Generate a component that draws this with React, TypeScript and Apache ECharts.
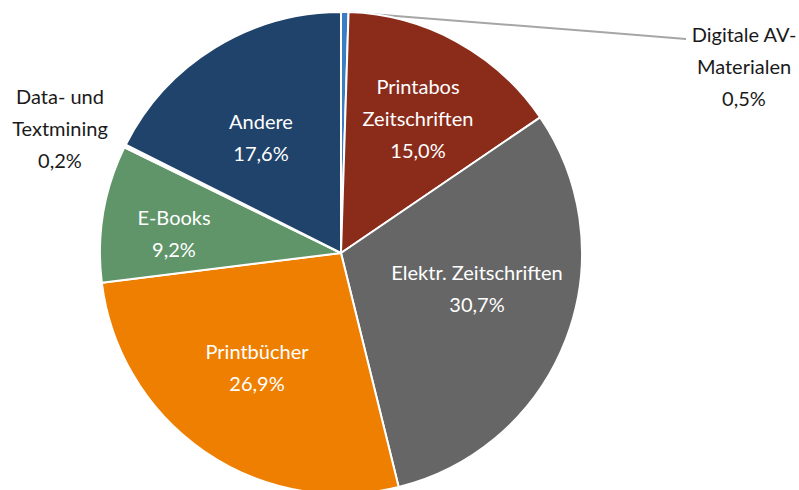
import React, { useEffect, useRef } from "react";
import * as echarts from "echarts";

const categories = [
  "Digitale AV-\nMaterialen",
  "Printabos\nZeitschriften",
  "Elektr. Zeitschriften",
  "Printbücher",
  "E-Books",
  "Data- und\nTextmining",
  "Andere",
];
const values = [0.5, 15.0, 30.7, 26.9, 9.2, 0.2, 17.6];
const colors = ["#3B7DC4", "#8B2C1B", "#666666", "#EE7F00", "#5F9569", "#FFFFFF", "#1F436B"];
const insideFlags = [false, true, true, true, true, false, true];

// label anchor positions (layout only)
const labelPos: [number, number][] = [
  [744, 66],
  [418, 118],
  [477, 288],
  [257, 367],
  [174, 233],
  [60, 128],
  [261, 137],
];

const fmt = (v: number) => v.toFixed(1).replace(".", ",") + "%";

export default function App() {
  const ref = useRef<HTMLDivElement>(null);
  useEffect(() => {
    if (!ref.current) return;
    const chart = echarts.init(ref.current, null, { renderer: "svg" });
    const data = categories.map((name, i) => ({
      name,
      value: values[i],
      itemStyle: { color: colors[i] },
      label: {
        color: insideFlags[i] ? "#FFFFFF" : "#1A1A1A",
        position: insideFlags[i] ? "inside" : "outside",
      },
      labelLine: { show: i === 0 },
    }));
    chart.setOption({
      animation: false,
      backgroundColor: "#FFFFFF",
      series: [
        {
          type: "pie",
          center: [341, 253],
          radius: [0, 241],
          startAngle: 90,
          clockwise: true,
          avoidLabelOverlap: false,
          itemStyle: { borderColor: "#FFFFFF", borderWidth: 2 },
          label: {
            show: true,
            formatter: (p: any) => p.name + "\n" + fmt(p.value),
            fontFamily: "Lato",
            fontSize: 20,
            lineHeight: 32,
            align: "center",
            verticalAlign: "middle",
          },
          labelLine: {
            show: true,
            lineStyle: { color: "#A6A6A6", width: 2 },
            smooth: false,
          },
          labelLayout: (params: any) => {
            const i = params.dataIndex;
            const [x, y] = labelPos[i];
            const res: any = { x, y, align: "center", verticalAlign: "middle" };
            if (i === 0) {
              res.labelLinePoints = [
                [345, 12],
                [600, 32],
                [686, 39],
              ];
            }
            return res;
          },
          data,
        },
      ],
    });
    return () => chart.dispose();
  }, []);
  return (
    <div
      ref={ref}
      style={{ position: "absolute", left: 0, top: 0, width: 799, height: 490 }}
    />
  );
}
